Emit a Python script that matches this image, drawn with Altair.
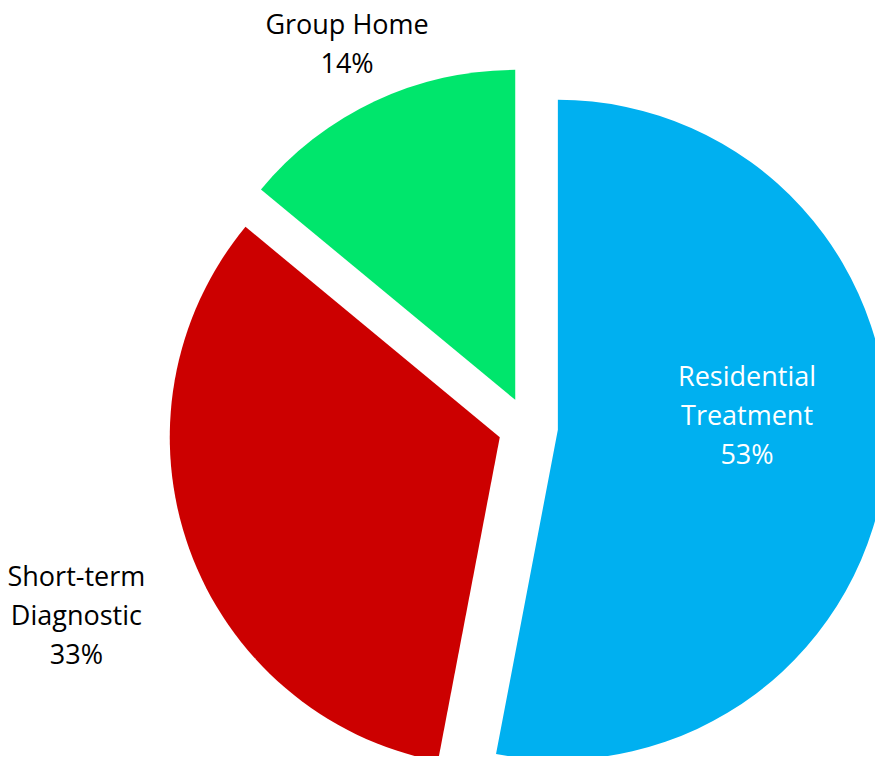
import math
import altair as alt
import pandas as pd

# ---- data ----
categories = ["Residential Treatment", "Short-term Diagnostic", "Group Home"]
values = [53, 33, 14]
label_lines = ["Residential\nTreatment\n53%", "Short-term\nDiagnostic\n33%", "Group Home\n14%"]
order = [0, 1, 2]

# ---- styles ----
colors = ["#00B0F0", "#CC0000", "#00E66C"]
text_colors = ["#FFFFFF", "#000000", "#000000"]
label_radius = [190, 450, 395]
label_dy = [-31, 27, 3]
CX, CY = 520, 419      # pie centre inside the plot area (px)
EXPLODE = 30           # explode distance (px)
R = 330                # pie radius (px)
W, H = 867, 748
FONT = "Open Sans"
LH = 39

df = pd.DataFrame({
    "category": categories,
    "value": values,
    "label": label_lines,
    "order": order,
    "tcolor": text_colors,
    "lr": label_radius,
    "ldy": label_dy,
})

base = alt.Chart(df).transform_window(
    cum="sum(value)", sort=[alt.SortField("order")], frame=[None, 0]
).transform_joinaggregate(
    total="sum(value)"
).transform_calculate(
    start="(datum.cum - datum.value) / datum.total",
    end="datum.cum / datum.total",
    mid="(datum.cum - datum.value / 2) / datum.total",
    nlines="length(split(datum.label, '\\n'))",
).transform_calculate(
    ang="2 * PI * datum.mid",
).transform_calculate(
    cx=f"{CX} + {EXPLODE} * sin(datum.ang)",
    cy=f"{CY} - {EXPLODE} * cos(datum.ang)",
).transform_calculate(
    lx="datum.cx + datum.lr * sin(datum.ang)",
    ly=f"datum.cy - datum.lr * cos(datum.ang) + datum.ldy - (datum.nlines - 1) * {LH} / 2",
)

theta_scale = alt.Scale(domain=[0, 1], range=[0, 2 * math.pi])

arcs = base.mark_arc(radius=R, stroke=None).encode(
    x=alt.X("cx:Q", scale=None),
    y=alt.Y("cy:Q", scale=None),
    theta=alt.Theta("start:Q", scale=theta_scale),
    theta2="end:Q",
    color=alt.Color("category:N", scale=alt.Scale(domain=categories, range=colors), legend=None),
)

texts = base.mark_text(
    font=FONT, fontSize=27, lineHeight=LH, align="center", baseline="middle", lineBreak="\n"
).encode(
    x=alt.X("lx:Q", scale=None),
    y=alt.Y("ly:Q", scale=None),
    text="label:N",
    color=alt.Color("tcolor:N", scale=None),
)

chart = alt.layer(arcs, texts).properties(
    width=W, height=H, autosize=alt.AutoSizeParams(type="none"), padding=0
).configure_view(stroke=None)

chart.save("out.html", embed_options={"renderer": "svg", "actions": False})
